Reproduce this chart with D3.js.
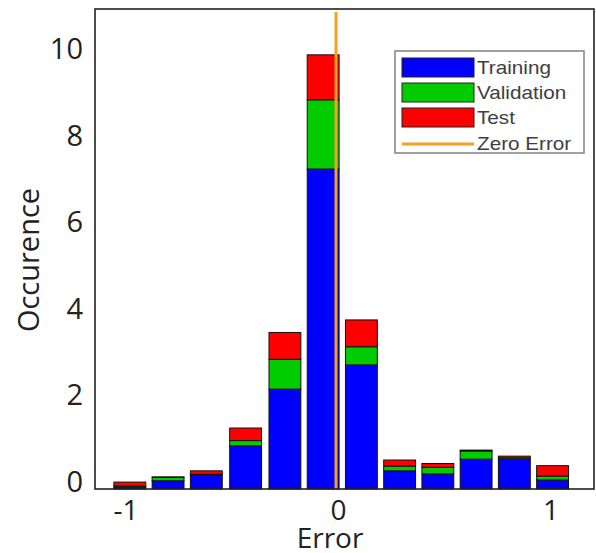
<!DOCTYPE html>
<html>
<head>
<meta charset="utf-8">
<script src="https://cdn.jsdelivr.net/npm/d3@7"></script>
<style>
  html, body { margin: 0; padding: 0; background: #fff; }
  svg { display: block; }
</style>
</head>
<body>
<div id="chart"></div>
<script>
// ---- data ----
const binCenters = [-0.98, -0.80, -0.62, -0.435, -0.25, -0.07, 0.11, 0.29, 0.47, 0.65, 0.83, 1.01];
const training   = [0.04, 0.19, 0.32, 1.00, 2.31, 7.40, 2.87, 0.42, 0.35, 0.69, 0.69, 0.21];
const validation = [0.03, 0.08, 0.02, 0.12, 0.69, 1.60, 0.42, 0.11, 0.15, 0.19, 0.03, 0.09];
const test       = [0.09, 0.01, 0.08, 0.29, 0.62, 1.04, 0.62, 0.14, 0.09, 0.02, 0.04, 0.24];
const seriesNames = ["Training", "Validation", "Test"];
const xTicks = [-1, 0, 1];
const yTicks = [0, 2, 4, 6, 8, 10];
const zeroErrorExtent = [0, 11.03];
const xLabel = "Error";
const yLabel = "Occurence";
const legendLabels = ["Training", "Validation", "Test", "Zero Error"];

// ---- layout / style ----
const W = 596, H = 553;
const plot = { left: 95, right: 594, top: 9, bottom: 489 };
const colors = { Training: "#0000ff", Validation: "#00cc00", Test: "#ff0000" };
const zeroColor = "#f4a020";
const barWidthUnits = 0.15;

const svg = d3.select("#chart").append("svg").attr("width", W).attr("height", H);

const x = d3.scaleLinear().domain([-1.144, 1.205]).range([plot.left, plot.right]);
const y = d3.scaleLinear().domain([0, 11.1]).range([plot.bottom, plot.top]);

// stacked data
const rows = binCenters.map((c, i) => ({ center: c, Training: training[i], Validation: validation[i], Test: test[i] }));
const stack = d3.stack().keys(seriesNames)(rows);

const barW = x(barWidthUnits) - x(0);
svg.append("g").selectAll("g")
  .data(stack).join("g")
  .attr("fill", d => colors[d.key])
  .selectAll("rect")
  .data(d => d).join("rect")
  .attr("x", d => x(d.data.center) - barW / 2)
  .attr("width", barW)
  .attr("y", d => y(d[1]))
  .attr("height", d => Math.max(0, y(d[0]) - y(d[1])))
  .attr("stroke", "#111")
  .attr("stroke-width", 1);

// zero error line
svg.append("line")
  .attr("x1", x(0) - 2).attr("x2", x(0) - 2)
  .attr("y1", y(zeroErrorExtent[0])).attr("y2", y(zeroErrorExtent[1]))
  .attr("stroke", zeroColor).attr("stroke-width", 3);

// plot box
svg.append("rect")
  .attr("x", plot.left).attr("y", plot.top)
  .attr("width", plot.right - plot.left).attr("height", plot.bottom - plot.top)
  .attr("fill", "none").attr("stroke", "#222").attr("stroke-width", 1.6);

// axes (labels only)
const fmt = d => String(d);
const xAxis = d3.axisBottom(x).tickValues(xTicks).tickSize(0).tickPadding(0).tickFormat(fmt);
const gx = svg.append("g").attr("transform", `translate(0,${plot.bottom})`).call(xAxis);
gx.select(".domain").remove();
gx.selectAll("text")
  .attr("font-family", "'Open Sans', sans-serif").attr("font-size", 28)
  .attr("fill", "#222").attr("dy", null).attr("y", 31);

const yAxis = d3.axisLeft(y).tickValues(yTicks).tickSize(0).tickPadding(0).tickFormat(fmt);
const gy = svg.append("g").attr("transform", `translate(${plot.left - 12},0)`).call(yAxis);
gy.select(".domain").remove();
gy.selectAll("text")
  .attr("font-family", "'Open Sans', sans-serif").attr("font-size", 29)
  .attr("fill", "#222").attr("dy", "0.35em").attr("y", -8);

// axis titles
svg.append("text")
  .attr("x", 330).attr("y", 548)
  .attr("text-anchor", "middle")
  .attr("font-family", "'Open Sans', sans-serif").attr("font-size", 28)
  .attr("fill", "#222").text(xLabel);

svg.append("text")
  .attr("transform", "translate(39,260) rotate(-90)")
  .attr("text-anchor", "middle")
  .attr("font-family", "'Open Sans', sans-serif").attr("font-size", 29)
  .attr("fill", "#222").text(yLabel);

// legend
const lg = svg.append("g");
lg.append("rect")
  .attr("x", 395).attr("y", 51).attr("width", 189).attr("height", 102)
  .attr("fill", "#fff").attr("stroke", "#8a8a8a").attr("stroke-width", 1.6);
const rowY = [67.5, 92.5, 117.5, 144];
legendLabels.forEach((lab, i) => {
  if (i < 3) {
    lg.append("rect")
      .attr("x", 402).attr("y", rowY[i] - 9.5).attr("width", 72).attr("height", 19)
      .attr("fill", colors[lab]).attr("stroke", "#222").attr("stroke-width", 1);
  } else {
    lg.append("line")
      .attr("x1", 402).attr("x2", 474).attr("y1", rowY[i]).attr("y2", rowY[i])
      .attr("stroke", zeroColor).attr("stroke-width", 3);
  }
  lg.append("text")
    .attr("transform", `translate(477,${rowY[i] + 6.3}) scale(1.15,1)`)
    .attr("font-family", "'Liberation Sans', Arial, sans-serif").attr("font-size", 18)
    .attr("fill", "#404040").text(lab);
});
</script>
</body>
</html>
